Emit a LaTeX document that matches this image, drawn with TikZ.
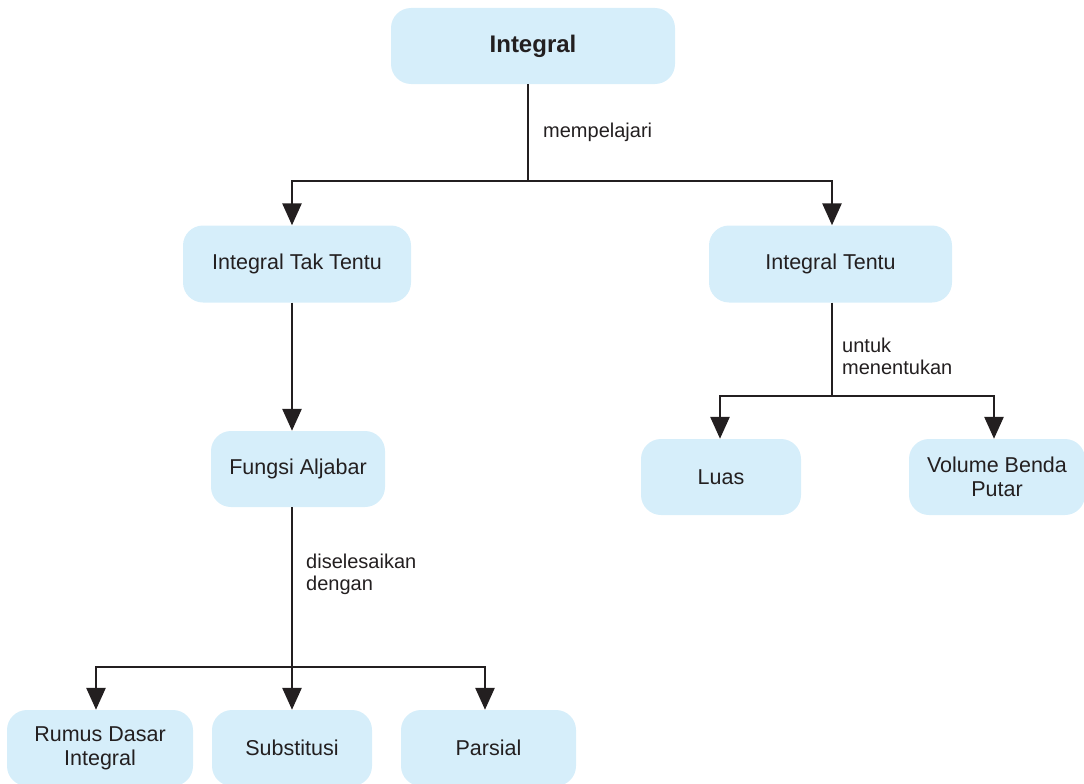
\documentclass[tikz,border=0pt]{standalone}
\usepackage{fontspec}
\setmainfont{Liberation Sans}
\usetikzlibrary{arrows.meta}
\definecolor{boxfill}{HTML}{D6EEFA}
\definecolor{ink}{HTML}{231F20}
\tikzset{
  box/.style={fill=boxfill, draw=none, rounded corners=20pt, inner sep=0pt,
    align=center, text=ink, font=\fontsize{21.5}{24}\selectfont},
  lbl/.style={inner sep=0pt, align=left, text=ink, font=\fontsize{20}{22}\selectfont},
  ln/.style={draw=ink, line width=2.8pt},
  arr/.style={ln, -{Triangle[length=22pt,width=19pt]}}
}
\begin{document}
\begin{tikzpicture}[x=1pt,y=-1pt]
\useasboundingbox (0,0) rectangle (1084,784);
% nodes
\node[box, minimum width=284pt, minimum height=76pt, font=\fontsize{24}{26}\selectfont\bfseries] (top) at (533,46) {Integral};
\node[box, minimum width=228pt, minimum height=77pt] (tt) at (297,264) {Integral Tak Tentu};
\node[box, minimum width=243pt, minimum height=77pt] (tn) at (830.5,264) {Integral Tentu};
\node[box, minimum width=174pt, minimum height=76pt] (fa) at (298,469) {Fungsi Aljabar};
\node[box, minimum width=160pt, minimum height=76pt] (luas) at (721,477) {Luas};
\node[box, minimum width=176pt, minimum height=76pt] (vol) at (997,477) {Volume Benda\\Putar};
\node[box, minimum width=186pt, minimum height=76pt] (rum) at (100,748) {Rumus Dasar\\Integral};
\node[box, minimum width=160pt, minimum height=76pt] (sub) at (292,748) {Substitusi};
\node[box, minimum width=175pt, minimum height=76pt] (par) at (488.5,748) {Parsial};
% labels
\node[lbl, anchor=base west] (l1) at (543,137) {mempelajari};
\node[lbl, anchor=north west] (l2) at (842,338) {untuk\\menentukan};
\node[lbl, anchor=north west] (l3) at (306,554) {diselesaikan\\dengan};
% junctions
\coordinate (j1) at (528,181);
\coordinate (j2) at (832,396);
\coordinate (j3) at (292,667);
% connectors
\draw[ln] (top.south -| j1) -- (j1);
\draw[arr] (j1) -| ([xshift=-5pt]tt.north);
\draw[arr] (j1) -| ([xshift=1.5pt]tn.north);
\draw[arr] ([xshift=-5pt]tt.south) -- ([xshift=-5pt]tt.south |- fa.north);
\draw[ln] (tn.south -| j2) -- (j2);
\draw[arr] (j2) -| ([xshift=-1pt]luas.north);
\draw[arr] (j2) -| ([xshift=-3pt]vol.north);
\draw[ln] (fa.south -| j3) -- (j3);
\draw[arr] (j3) -| ([xshift=-4pt]rum.north);
\draw[arr] (j3) -- (sub.north);
\draw[arr] (j3) -| ([xshift=-3.5pt]par.north);
\end{tikzpicture}
\end{document}
